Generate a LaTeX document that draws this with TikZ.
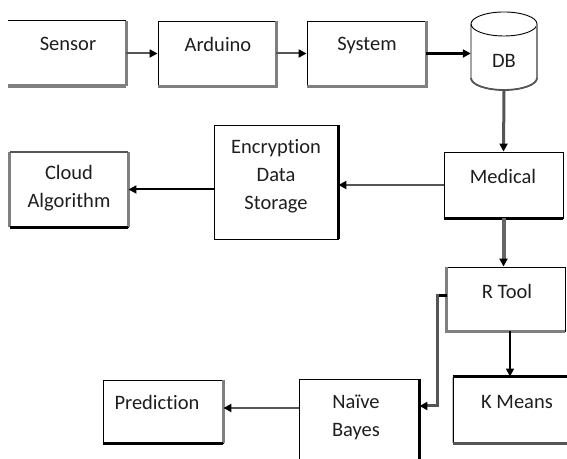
\documentclass[tikz,border=0pt]{standalone}
\usepackage{fontspec}
\setmainfont{Carlito}[Ligatures={NoCommon}]
\usetikzlibrary{arrows.meta,calc}
\definecolor{shd}{HTML}{808080}
\definecolor{cn}{HTML}{555555}
\definecolor{txt}{HTML}{1E1E1E}
\begin{document}
\begin{tikzpicture}[x=1bp,y=1bp,
  bx/.style 2 args={draw=black, line width=0.9bp, inner sep=0, minimum width=#1, minimum height=#2},
  tx/.style={font=\fontsize{20.5bp}{28bp}\selectfont, align=center, inner sep=0, anchor=north, text=txt},
  sg/.style={draw=shd, line width=3bp},
  sb/.style={draw=black, line width=2.6bp},
  tip/.style={-{Triangle[length=8bp,width=8bp,color=black]}},
  cg/.style={draw=cn, line width=2bp, tip},
  ck/.style={draw=black, line width=2bp, tip}]
\useasboundingbox (0,0) rectangle (567,459);

% boxes
\node[bx={118bp}{65bp}, draw=none] (sensor) at (67,405.5) {};
\node[bx={118bp}{65bp}] (arduino) at (217,405.5) {};
\node[bx={119bp}{65bp}] (system) at (366.5,405.5) {};
\node[inner sep=0, minimum width=66bp, minimum height=78bp] (db) at (504,408) {};
\node[bx={119bp}{66bp}] (medical) at (503.5,274) {};
\node[bx={124bp}{114bp}] (enc) at (276,277) {};
\node[bx={118bp}{75bp}] (cloud) at (69,269.5) {};
\node[bx={118bp}{64bp}] (rtool) at (506,160) {};
\node[bx={122bp}{66bp}] (kmeans) at (514,49) {};
\node[bx={120bp}{91bp}] (naive) at (359,34.5) {};
\node[bx={120bp}{63bp}] (pred) at (163,47.5) {};

% box edge accents
\draw[line width=0.9bp] (sensor.north west) -- (sensor.north east);
\draw[sg] (sensor.north east) -- (sensor.south east);
\draw[sg, line width=4bp] (sensor.south west) -- (sensor.south east);
\draw[sg] (arduino.north east) -- (arduino.south east) -- (arduino.south west);
\draw[sg] (system.north east) -- (system.south east) -- (system.south west);
\draw[sb] (medical.south west) -- (medical.south east);
\draw[black, line width=2.2bp] (enc.north east) -- (enc.south east);
\draw[sg] (cloud.south west) -- (cloud.north west);
\draw[sg] (cloud.north east) -- (cloud.south east);
\draw[draw=cn, line width=2bp] (cloud.north west) -- (cloud.north east);
\draw[sb] (cloud.south west) -- (cloud.south east);
\draw[sg] (rtool.north west) -- (rtool.south west) -- (rtool.south east);
\draw[sb] (kmeans.north west) -- (kmeans.north east);
\draw[draw=gray!50, line width=1.6bp] (kmeans.north west) -- (kmeans.south west);
\draw[sb, draw=cn] (kmeans.south west) -- (kmeans.south east);
\draw[black, line width=2.2bp] (naive.north east) -- (naive.south east);
\draw[sg] (pred.north east) -- (pred.south east);
\draw[sb, line width=2.4bp] (pred.south west) -- (pred.south east);

% database cylinder
\draw[line width=0.9bp] ([yshift=27bp]db.center) ellipse [x radius=33bp, y radius=12bp];
\draw[line width=0.9bp] ([xshift=-33bp,yshift=27bp]db.center) -- ([xshift=-33bp,yshift=-27bp]db.center)
  arc[start angle=180, end angle=360, x radius=33bp, y radius=12bp];
\draw[sg, line width=2.5bp] ([xshift=33bp,yshift=27bp]db.center) -- ([xshift=33bp,yshift=-27bp]db.center);
\draw[draw=cn, line width=1.8bp] ([xshift=-33bp,yshift=-27bp]db.center)
  arc[start angle=180, end angle=360, x radius=33bp, y radius=12bp];

% texts
\node[tx] (sensortx) at (68,421.5) {Sensor};
\node[tx] (arduinotx) at (218,421.5) {Arduino};
\node[tx] (systemtx) at (367,421.5) {System};
\node[tx] (dbtx) at (504,405) {DB};
\node[tx] (medicaltx) at (503,289.5) {Medical};
\node[tx] (enctx) at (276,319.5) {Encryption\\Data\\Storage};
\node[tx] (cloudtx) at (69,293.5) {Cloud\\Algorithm};
\node[tx] (rtooltx) at (507,174.5) {R Tool};
\node[tx] (kmeanstx) at (517,63.5) {K Means};
\node[tx] (naivetx) at (356,64.5) {Naïve\\Bayes};
\node[tx] (predtx) at (157,63.5) {Prediction};

% connectors
\coordinate (elb) at (437,53);
\draw[cg] (sensor.east) -- (arduino.west);
\draw[cg] (arduino.east) -- (system.west);
\draw[ck, line width=3bp] (system.east) -- (system.east -| db.west);
\draw[cg, line width=3bp] (db.south) -- (medical.north);
\draw[cg] (medical.west) -- (medical.west -| enc.east);
\draw[ck] (cloud.east -| enc.west) -- (cloud.east);
\draw[cg, draw=shd!80!black, line width=4bp] (medical.south) -- (medical.south |- rtool.north);
\draw[ck, line width=1.6bp] ([xshift=4bp]rtool.south) -- ([xshift=4bp]rtool.south |- kmeans.north);
\draw[cg, line width=3bp] ([yshift=3bp]rtool.west) -| (elb) -- (elb -| naive.east);
\draw[black, line width=3bp] ([yshift=3bp]rtool.west) -- ++(-8,0);
\draw[cg] ([yshift=3.5bp]pred.east -| naive.west) -- ([yshift=3.5bp]pred.east);
\end{tikzpicture}
\end{document}
